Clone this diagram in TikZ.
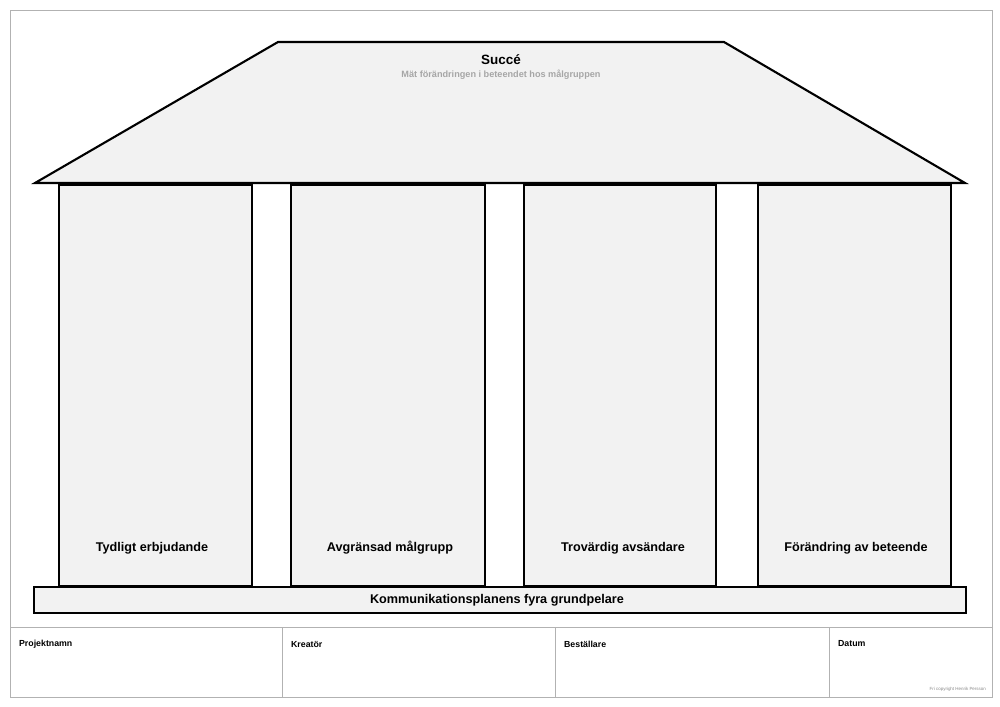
\documentclass[tikz,border=0pt]{standalone}
\usepackage{fontspec}
\setmainfont{Liberation Sans}
\begin{document}
\begin{tikzpicture}[x=0.03cm,y=-0.03cm,
  ink/.style={draw=black,line width=1.4pt,fill=black!5},
  frame/.style={draw=black!30,line width=0.8pt},
  lbl/.style={font=\bfseries\fontsize{10.8}{13}\selectfont},
  flbl/.style={font=\bfseries\fontsize{7.5}{9}\selectfont,anchor=west}]
\useasboundingbox (0,0) rectangle (1000,707);
\fill[white] (0,0) rectangle (1000,707);
\draw[frame] (10,10) rectangle (992,697);
\draw[frame] (10,627) -- (992,627);
\foreach \x in {282,555,829} \draw[frame] (\x,627) -- (\x,697);
\node[flbl] (p) at (15,644) {Projektnamn};
\node[flbl] (k) at (287,644) {Kreatör};
\node[flbl] (b) at (560,644) {Beställare};
\node[flbl] (d) at (834,644) {Datum};
\node[font=\fontsize{3.8}{4}\selectfont,text=black!45,anchor=east] (c) at (990,689) {Fri copyright Henrik Persson};
% roof
\draw[ink,line width=1.8pt] (278,42) -- (724,42) -- (965,183) -- (35,183) -- cycle;
\node[font=\bfseries\fontsize{11.5}{13}\selectfont] (s) at (501,60) {Succé};
\node[font=\bfseries\fontsize{7.8}{9}\selectfont,text=black!35] (m) at (501,75) {Mät förändringen i beteendet hos målgruppen};
% pillars
\draw[ink] (59,185) rectangle (252,586);
\draw[ink] (291,185) rectangle (485,586);
\draw[ink] (524,185) rectangle (716,586);
\draw[ink] (758,185) rectangle (951,586);
\node[lbl] (t1) at (152,548) {Tydligt erbjudande};
\node[lbl] (t2) at (390,548) {Avgränsad målgrupp};
\node[lbl] (t3) at (623,548) {Trovärdig avsändare};
\node[lbl] (t4) at (856,548) {Förändring av beteende};
% base
\draw[ink] (34,587) rectangle (966,613);
\node[lbl] (base) at (497,600) {Kommunikationsplanens fyra grundpelare};
\end{tikzpicture}
\end{document}
